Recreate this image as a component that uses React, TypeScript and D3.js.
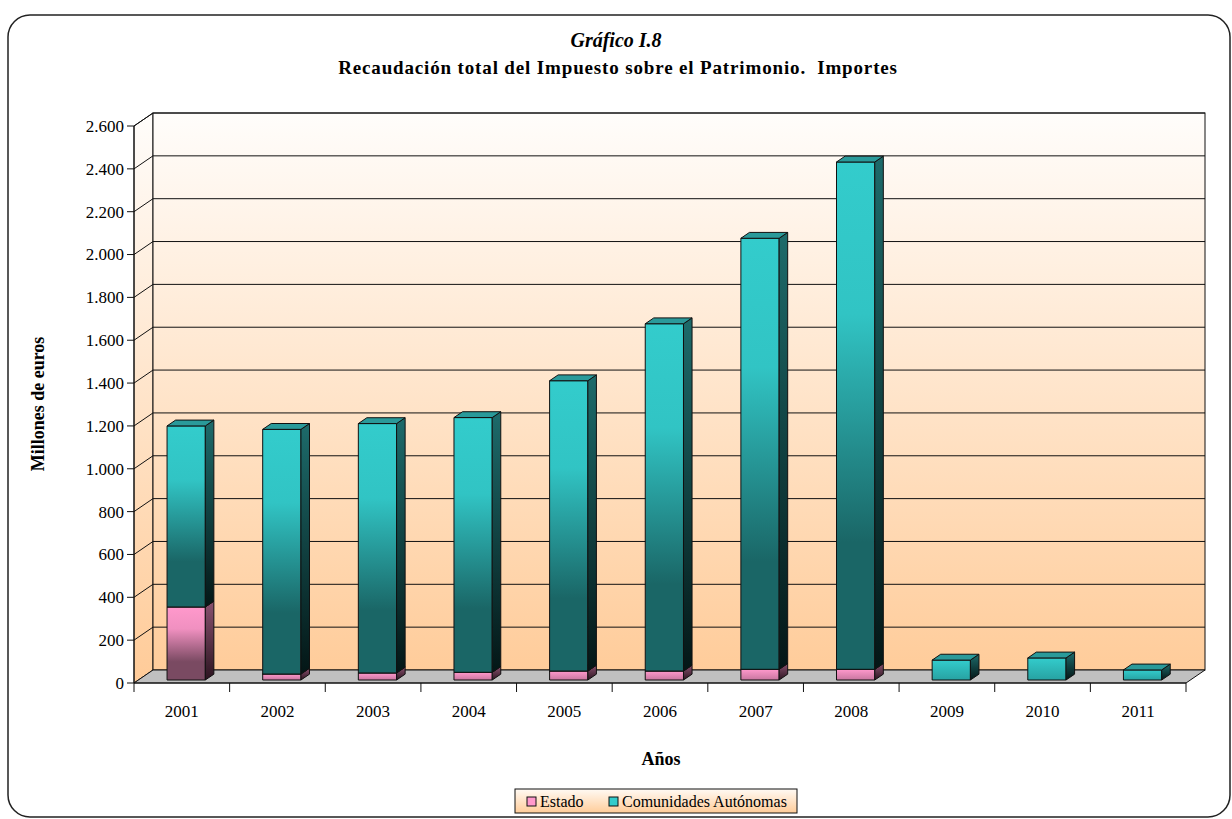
import * as d3 from "d3";

// datos (millones de euros)
const years = ["2001", "2002", "2003", "2004", "2005", "2006", "2007", "2008", "2009", "2010", "2011"];
const estado = [341, 28, 33, 36, 42, 42, 50, 50, 0, 0, 0];
const ccaa = [845, 1142, 1164, 1189, 1355, 1621, 2012, 2368, 93, 103, 47];
const yTicks = [0, 200, 400, 600, 800, 1000, 1200, 1400, 1600, 1800, 2000, 2200, 2400, 2600];
const seriesNames = ["Estado", "Comunidades Autónomas"];

const W = 1232;
const H = 819;
const DX = 19; // profundidad de la pared
const DY = -13;
const D0 = 0.23; // cara frontal de la barra
const D1 = 0.68; // cara trasera de la barra
const FONT = "'Liberation Serif', 'Times New Roman', serif";

const fmt = d3.formatLocale({ decimal: ",", thousands: ".", grouping: [3], currency: ["", "€"] }).format(",d");

const rows = years.map((yr, i) => ({ year: yr, estado: estado[i], ccaa: ccaa[i] }));
const stacked = d3.stack<any>().keys(["estado", "ccaa"])(rows);

const colors = [
  { front: ["#ff99cc", "#f090c0", "#7a4a62"], short: ["#ff99cc", "#c8769f"], side: ["#8a5270", "#2c1420"], top: "#b8729a" },
  { front: ["#33cccc", "#31c4c4", "#1a6666"], short: ["#33cccc", "#27a2a2"], side: ["#1d6b6b", "#041616"], top: "#2a9a9a" },
];

export default function App() {
  const x = d3.scaleBand<string>().domain(years).range([134, 1186]);
  const y = d3.scaleLinear().domain([0, 2600]).range([683, 126]);
  const bw = x.bandwidth();
  const barW = bw * 0.4;
  const dd = D1 - D0;

  const x0 = 134;
  const x1 = 1186;
  const yTop = y(2600);
  const yBase = y(0);

  return (
    <svg width={W} height={H} style={{ position: "absolute", left: 0, top: 0, display: "block" }} fontFamily={FONT}>
      <defs>
        <linearGradient id="wall" gradientUnits="userSpaceOnUse" x1="0" y1={yTop + DY} x2="0" y2={yBase}>
          <stop offset="0" stopColor="#fffdfb" />
          <stop offset="1" stopColor="#ffcb98" />
        </linearGradient>
        <linearGradient id="legbg" x1="0" y1="0" x2="0" y2="1">
          <stop offset="0" stopColor="#fffaf4" />
          <stop offset="1" stopColor="#ffcc99" />
        </linearGradient>
        {colors.map((c, i) => (
          <g key={i}>
            <linearGradient id={`front${i}`} x1="0" y1="0" x2="0" y2="1">
              <stop offset="0" stopColor={c.front[0]} />
              <stop offset="0.3" stopColor={c.front[1]} />
              <stop offset="0.75" stopColor={c.front[2]} />
              <stop offset="1" stopColor={c.front[2]} />
            </linearGradient>
            <linearGradient id={`short${i}`} x1="0" y1="0" x2="0" y2="1">
              <stop offset="0" stopColor={c.short[0]} />
              <stop offset="1" stopColor={c.short[1]} />
            </linearGradient>
            <linearGradient id={`side${i}`} x1="0" y1="0" x2="0" y2="1">
              <stop offset="0" stopColor={c.side[0]} />
              <stop offset="1" stopColor={c.side[1]} />
            </linearGradient>
          </g>
        ))}
      </defs>

      {/* marco */}
      <rect x={8} y={15} width={1222} height={802} rx={22} fill="#fff" stroke="#222" strokeWidth={1.5} />

      {/* títulos */}
      <text x={616} y={47} textAnchor="middle" fontWeight="bold" fontStyle="italic" fontSize={20}>
        Gráfico I.8
      </text>
      <text x={618} y={74} textAnchor="middle" fontWeight="bold" fontSize={19} letterSpacing={0.85}>
        {"Recaudación total del Impuesto sobre el Patrimonio.\u00a0 Importes"}
      </text>

      {/* pared lateral */}
      <polygon
        points={`${x0},${yBase} ${x0 + DX},${yBase + DY} ${x0 + DX},${yTop + DY} ${x0},${yTop}`}
        fill="url(#wall)"
        stroke="#111"
      />
      {/* pared trasera */}
      <rect x={x0 + DX} y={yTop + DY} width={x1 - x0} height={yBase - yTop} fill="url(#wall)" stroke="#111" />
      {yTicks.slice(1).map((t) => (
        <g key={t}>
          <line x1={x0} y1={y(t)} x2={x0 + DX} y2={y(t) + DY} stroke="#111" />
          <line x1={x0 + DX} y1={y(t) + DY} x2={x1 + DX} y2={y(t) + DY} stroke="#111" />
        </g>
      ))}
      {/* suelo */}
      <polygon
        points={`${x0},${yBase} ${x1},${yBase} ${x1 + DX},${yBase + DY} ${x0 + DX},${yBase + DY}`}
        fill="#c0c0c0"
        stroke="#111"
      />

      {/* barras */}
      {years.map((yr) =>
        stacked.map((s, si) => {
          const d = s.find((p: any) => p.data.year === yr)!;
          if (d[1] - d[0] <= 0) return null;
          const fx = (x(yr) as number) + (bw - barW) / 2 + D0 * DX;
          const ft = y(d[1]) + D0 * DY;
          const fb = y(d[0]) + D0 * DY;
          const ox = dd * DX;
          const oy = dd * DY;
          const grad = fb - ft < 40 ? `short${si}` : `front${si}`;
          return (
            <g key={yr + si} stroke="#111" strokeWidth={1} strokeLinejoin="round">
              <rect x={fx} y={ft} width={barW} height={fb - ft} fill={`url(#${grad})`} />
              <polygon
                points={`${fx + barW},${ft} ${fx + barW + ox},${ft + oy} ${fx + barW + ox},${fb + oy} ${fx + barW},${fb}`}
                fill={`url(#side${si})`}
              />
              <polygon
                points={`${fx},${ft} ${fx + ox},${ft + oy} ${fx + barW + ox},${ft + oy} ${fx + barW},${ft}`}
                fill={colors[si].top}
              />
            </g>
          );
        })
      )}

      {/* eje Y */}
      <line x1={x0} y1={yTop} x2={x0} y2={yBase + 9} stroke="#111" />
      {yTicks.map((t) => (
        <g key={t}>
          <line x1={x0 - 7} y1={y(t)} x2={x0} y2={y(t)} stroke="#111" />
          <text x={x0 - 10} y={y(t)} dy="0.35em" textAnchor="end" fontSize={17}>
            {fmt(t)}
          </text>
        </g>
      ))}

      {/* eje X */}
      <line x1={x0} y1={yBase} x2={x1} y2={yBase} stroke="#111" />
      {years.map((yr) => (
        <g key={yr}>
          <line x1={(x(yr) as number) + bw} y1={yBase} x2={(x(yr) as number) + bw} y2={yBase + 9} stroke="#111" />
          <text x={(x(yr) as number) + bw / 2} y={yBase + 34} textAnchor="middle" fontSize={17}>
            {yr}
          </text>
        </g>
      ))}

      <text x={661} y={765} textAnchor="middle" fontWeight="bold" fontSize={18}>
        Años
      </text>
      <text transform="translate(44,404) rotate(-90)" textAnchor="middle" fontWeight="bold" fontSize={18}>
        Millones de euros
      </text>

      {/* leyenda */}
      <rect x={515} y={789} width={282} height={24} fill="url(#legbg)" stroke="#111" />
      {seriesNames.map((n, i) => {
        const lx = i === 0 ? 527 : 609;
        return (
          <g key={n}>
            <rect x={lx} y={797} width={9} height={9} fill={colors[i].front[0]} stroke="#111" />
            <text x={lx + 13} y={806.5} fontSize={16}>
              {n}
            </text>
          </g>
        );
      })}
    </svg>
  );
}
